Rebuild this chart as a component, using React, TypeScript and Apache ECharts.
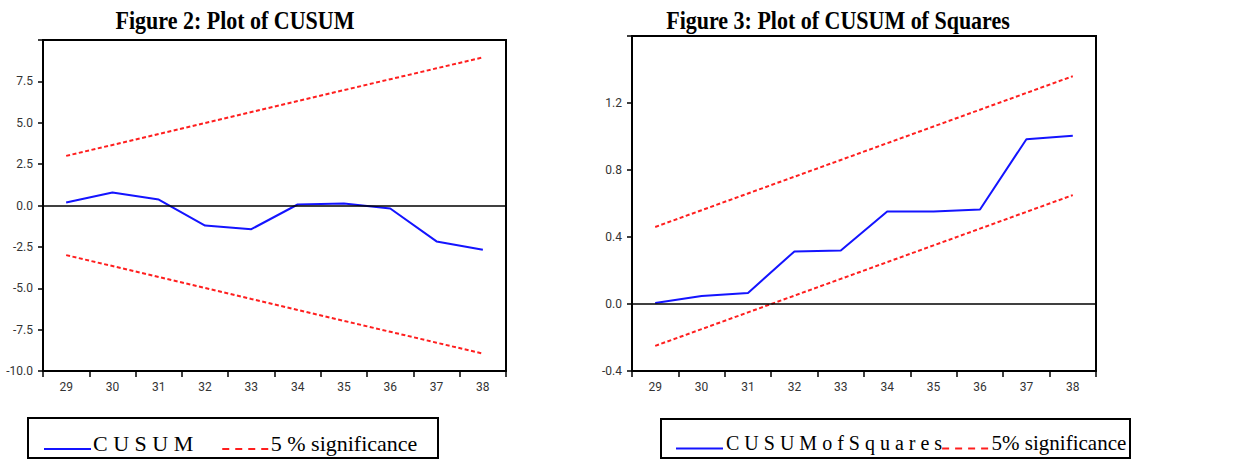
import React, { useEffect, useRef } from "react";
import * as echarts from "echarts";

const categories = ["29", "30", "31", "32", "33", "34", "35", "36", "37", "38"];

const cusum = [0.18, 0.78, 0.36, -1.21, -1.43, 0.06, 0.12, -0.18, -2.17, -2.68];
const cusumUpper = [3.0, 3.66, 4.32, 4.98, 5.65, 6.31, 6.97, 7.63, 8.29, 8.95];
const cusumLower = [-3.0, -3.66, -4.32, -4.98, -5.65, -6.31, -6.97, -7.63, -8.29, -8.95];

const cusumSq = [0.006, 0.048, 0.066, 0.314, 0.32, 0.552, 0.552, 0.564, 0.984, 1.004];
const sqUpper = [0.46, 0.56, 0.66, 0.76, 0.86, 0.96, 1.06, 1.16, 1.26, 1.36];
const sqLower = [-0.25, -0.15, -0.05, 0.05, 0.15, 0.25, 0.35, 0.45, 0.55, 0.65];

const titles = ["Figure 2: Plot of CUSUM", "Figure 3: Plot of CUSUM of Squares"];
const leftNames = ["C U S U M", "5 % significance"];
const rightNames = ["C U S U M o f S q u a r e s", "5% significance"];

const BLUE = "#1414ff";
const RED = "#ff1e1e";
const SERIF = "'Liberation Serif', 'Times New Roman', serif";
const SANS = "Roboto, 'DejaVu Sans', sans-serif";

const solidIcon = "path://M0,0h1v0.01h-1z M0,12h47v2h-47z";
const dashIcon =
  "path://M0,0h1v0.01h-1z M0,12h7v2h-7z M13,12h7v2h-7z M26,12h7v2h-7z M39,12h7v2h-7z";

function xAxisFor(gridIndex: number) {
  return {
    type: "category",
    gridIndex,
    data: categories,
    boundaryGap: true,
    axisLine: { show: true, onZero: false, lineStyle: { color: "#000", width: 2 } },
    axisTick: { show: true, inside: false, length: 6, interval: 0, lineStyle: { color: "#000", width: 1.5 } },
    axisLabel: { interval: 0, margin: 10, color: "#333", fontFamily: SANS, fontSize: 12 },
    splitLine: { show: false },
  };
}

function yAxisFor(gridIndex: number, min: number, max: number, interval: number) {
  return {
    type: "value",
    gridIndex,
    min,
    max,
    interval,
    axisLine: { show: true, onZero: false, lineStyle: { color: "#000", width: 2 } },
    axisTick: { show: true, inside: false, length: 5, lineStyle: { color: "#000", width: 1.5 } },
    axisLabel: {
      margin: 10,
      color: "#333",
      fontFamily: SANS,
      fontSize: 12,
      formatter: (v: number) => (Math.abs(v - max) < 1e-6 ? "" : v.toFixed(1)),
    },
    splitLine: { show: false },
  };
}

const zeroLine = {
  silent: true,
  symbol: ["none", "none"],
  label: { show: false },
  lineStyle: { color: "#000", width: 1.5, type: "solid" },
  data: [{ yAxis: 0 }],
};

function lineSeries(name: string, data: number[], idx: number, color: string, dashed: boolean, extra: any = {}) {
  return {
    type: "line",
    name,
    data,
    xAxisIndex: idx,
    yAxisIndex: idx,
    symbol: "none",
    showSymbol: false,
    color,
    itemStyle: { color },
    lineStyle: { color, width: 2, type: dashed ? [4, 2.5] : "solid" },
    ...extra,
  };
}

export default function App() {
  const ref = useRef<HTMLDivElement>(null);

  useEffect(() => {
    if (!ref.current) return;
    const chart = echarts.init(ref.current, undefined, { renderer: "svg" });
    const legendText = { fontFamily: SERIF, fontSize: 22, color: "#000", padding: [0, 0, 0, -3] };
    const titleStyle = {
      fontFamily: SERIF,
      fontWeight: "bold",
      fontSize: 22,
      fill: "#000",
      align: "center",
      verticalAlign: "middle",
    };
    chart.setOption({
      animation: false,
      backgroundColor: "#fff",
      grid: [
        { left: 43, top: 40, width: 463, height: 331, show: true, borderColor: "#000", borderWidth: 2, backgroundColor: "transparent" },
        { left: 632, top: 36, width: 464, height: 335, show: true, borderColor: "#000", borderWidth: 2, backgroundColor: "transparent" },
      ],
      xAxis: [xAxisFor(0), xAxisFor(1)],
      yAxis: [yAxisFor(0, -10, 10, 2.5), yAxisFor(1, -0.4, 1.6, 0.4)],
      legend: [
        {
          data: [
            { name: leftNames[0], icon: solidIcon },
            { name: leftNames[1], icon: dashIcon },
          ],
          left: 44,
          top: 432,
          padding: 0,
          itemWidth: 47,
          itemHeight: 14,
          itemGap: 29,
          selectedMode: false,
          itemStyle: { borderWidth: 0 },
          textStyle: legendText,
        },
        {
          data: [
            { name: rightNames[0], icon: solidIcon, textStyle: { ...legendText, fontSize: 20 } },
            { name: rightNames[1], icon: dashIcon, textStyle: { ...legendText, fontSize: 21 } },
          ],
          left: 676,
          top: 432,
          padding: 0,
          itemWidth: 49,
          itemHeight: 14,
          itemGap: 0,
          selectedMode: false,
          itemStyle: { borderWidth: 0 },
          textStyle: legendText,
        },
      ],
      graphic: [
        { type: "text", x: 235, y: 20, scaleY: 1.15, style: { ...titleStyle, text: titles[0] } },
        { type: "text", x: 838, y: 20, scaleY: 1.15, style: { ...titleStyle, text: titles[1] } },
        { type: "rect", shape: { x: 28, y: 418, width: 410, height: 40 }, style: { fill: "none", stroke: "#000", lineWidth: 2 } },
        { type: "rect", shape: { x: 661, y: 419, width: 469, height: 39 }, style: { fill: "none", stroke: "#000", lineWidth: 2 } },
      ],
      series: [
        lineSeries(leftNames[1], cusumUpper, 0, RED, true),
        lineSeries(leftNames[1], cusumLower, 0, RED, true),
        lineSeries(leftNames[0], cusum, 0, BLUE, false, { markLine: zeroLine, z: 3 }),
        lineSeries(rightNames[1], sqUpper, 1, RED, true),
        lineSeries(rightNames[1], sqLower, 1, RED, true),
        lineSeries(rightNames[0], cusumSq, 1, BLUE, false, { markLine: zeroLine, z: 3 }),
      ],
    });
    return () => chart.dispose();
  }, []);

  return (
    <div
      ref={ref}
      style={{ position: "fixed", left: 0, top: 0, width: 1236, height: 460, background: "#fff" }}
    />
  );
}
